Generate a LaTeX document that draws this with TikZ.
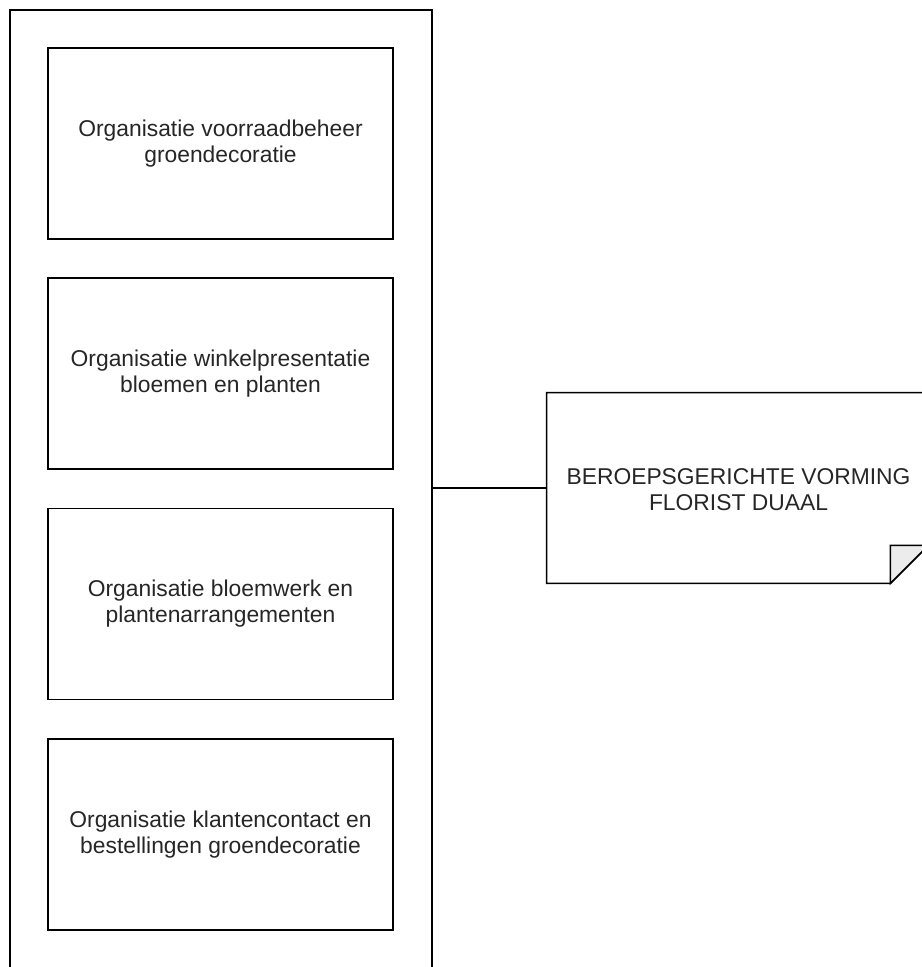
\documentclass[tikz,border=0pt]{standalone}
\usepackage{fontspec}
\setmainfont{Liberation Sans}
\usetikzlibrary{positioning}

\begin{document}
\begin{tikzpicture}[x=0.02cm, y=-0.02cm, line join=miter,
    every node/.style={font=\fontsize{13pt}{14.8pt}\selectfont, text=black!85},
    unitbox/.style={draw, line width=0.9pt, minimum width=6.9cm, minimum height=3.82cm, align=center, inner sep=0pt},
    notebox/.style={minimum width=7.62cm, minimum height=3.8cm, inner sep=0pt}]

    \useasboundingbox (0,0) rectangle (922,967);
    \clip (0,0) rectangle (922,967);

    % Outer container
    \node[draw, line width=0.9pt, minimum width=8.44cm, minimum height=19.2cm, inner sep=0pt] (module) at (221,490) {};

    % Inner units
    \node[unitbox] (voorraad) at (220.5,143.5) {Organisatie voorraadbeheer\\groendecoratie};
    \node[unitbox] (winkel) at (220.5,373.7) {Organisatie winkelpresentatie\\bloemen en planten};
    \node[unitbox] (bloemwerk) at (220.5,604) {Organisatie bloemwerk en\\plantenarrangementen};
    \node[unitbox] (klanten) at (220.5,834.5) {Organisatie klantencontact en\\bestellingen groendecoratie};

    % Note with folded corner
    \node[notebox] (vorming) at (737.5,488) {};
    \draw[line width=0.9pt] (vorming.north west) -- (vorming.north east)
        -- ([yshift=0.76cm]vorming.south east) -- ([xshift=-0.76cm]vorming.south east)
        -- (vorming.south west) -- cycle;
    \filldraw[line width=0.9pt, fill=gray!15] ([xshift=-0.76cm]vorming.south east) -- ++(0,0.76cm)
        -- ([yshift=0.76cm]vorming.south east) -- cycle;
    \node[align=center] (vormtekst) at (738.5,490) {BEROEPSGERICHTE VORMING\\FLORIST DUAAL};

    % Connector
    \draw[line width=0.9pt] (module.east |- vorming.west) -- (vorming.west);

\end{tikzpicture}
\end{document}
